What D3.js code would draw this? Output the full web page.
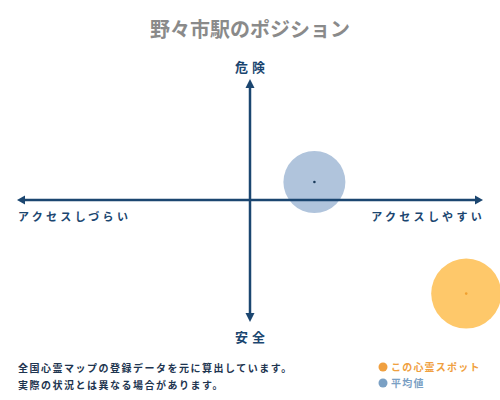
<!DOCTYPE html>
<html>
<head>
<meta charset="utf-8">
<script src="https://cdn.jsdelivr.net/npm/d3@7"></script>
<style>
  body { margin: 0; background: #fff; }
  svg { display: block; font-family: "Noto Sans CJK JP", sans-serif; }
</style>
</head>
<body>
<svg id="chart" width="500" height="400"></svg>
<script>
// データ
const title = "野々市駅のポジション";
const axisLabels = ["危険", "安全", "アクセスしづらい", "アクセスしやすい"];
const pointNames = ["平均値", "この心霊スポット"];
const pointX = [28, 94];     // アクセス (-100..100)
const pointY = [15, -78];    // 危険度 (-100..100)
const pointR = [31, 35];
const pointColors = ["#b0c4dc", "#fec86a"];
const dotColors = ["#1a3a5a", "#f0a030"];
const notes = ["全国心霊マップの登録データを元に算出しています。", "実際の状況とは異なる場合があります。"];
const legendColors = ["#f0a040", "#7aa0c4"];
const legendText = ["この心霊スポット", "平均値"];

const NAVY = "#1b4670";
const svg = d3.select("#chart");

const x = d3.scaleLinear().domain([-100, 100]).range([20, 480]);
const y = d3.scaleLinear().domain([-100, 100]).range([320, 80]);

// タイトル
svg.append("text")
  .attr("x", 250).attr("y", 37)
  .attr("text-anchor", "middle")
  .attr("font-size", 20).attr("font-weight", "bold")
  .attr("fill", "#8a8a8a")
  .text(title);

// 円（平均値・スポット）
const order = [0, 1];
svg.selectAll("circle.pt")
  .data(order)
  .join("circle")
  .attr("class", "pt")
  .attr("cx", i => x(pointX[i]))
  .attr("cy", i => y(pointY[i]))
  .attr("r", i => pointR[i])
  .attr("fill", i => pointColors[i]);

// 軸
const axes = svg.append("g").attr("stroke", NAVY).attr("stroke-width", 2.5);
axes.append("line").attr("x1", 22).attr("x2", 478).attr("y1", y(0)).attr("y2", y(0));
axes.append("line").attr("x1", x(0)).attr("x2", x(0)).attr("y1", 85).attr("y2", 317);

// 矢印
const arrow = (pts) => svg.append("path").attr("d", d3.line()(pts) + "Z").attr("fill", NAVY);
const cx0 = x(0), cy0 = y(0);
arrow([[17, cy0], [25, cy0 - 4.5], [25, cy0 + 4.5]]);
arrow([[483, cy0], [475, cy0 - 4.5], [475, cy0 + 4.5]]);
arrow([[cx0, 79], [cx0 - 4.5, 88], [cx0 + 4.5, 88]]);
arrow([[cx0, 322], [cx0 - 4.5, 313], [cx0 + 4.5, 313]]);

// 中心点
svg.selectAll("circle.dot")
  .data(order)
  .join("circle")
  .attr("class", "dot")
  .attr("cx", i => x(pointX[i]))
  .attr("cy", i => y(pointY[i]))
  .attr("r", 1.3)
  .attr("fill", i => dotColors[i]);

// 軸ラベル
const lab = (t, xx, yy, anchor, size, ls) => svg.append("text")
  .attr("x", xx).attr("y", yy)
  .attr("text-anchor", anchor)
  .attr("font-size", size).attr("font-weight", "bold")
  .attr("letter-spacing", ls)
  .attr("fill", NAVY)
  .text(t);
lab(axisLabels[0], 252, 72, "middle", 13, 4);
lab(axisLabels[1], 252, 342, "middle", 13, 4);
lab(axisLabels[2], 18, 221, "start", 11, 3.3);
lab(axisLabels[3], 485, 221, "end", 11, 3.3);

// 注記
svg.selectAll("text.note")
  .data(notes)
  .join("text")
  .attr("class", "note")
  .attr("x", 18)
  .attr("y", (d, i) => 372 + i * 17)
  .attr("font-size", 10).attr("font-weight", "bold")
  .attr("letter-spacing", 1.5)
  .attr("fill", "#1e3550")
  .text(d => d);

// 凡例
const leg = svg.selectAll("g.leg")
  .data(legendText)
  .join("g")
  .attr("class", "leg")
  .attr("transform", (d, i) => `translate(383,${367 + i * 16})`);
leg.append("circle").attr("r", 4.5).attr("fill", (d, i) => legendColors[i]);
leg.append("text")
  .attr("x", 8).attr("y", 4)
  .attr("font-size", 10).attr("font-weight", "bold")
  .attr("letter-spacing", 1.2)
  .attr("fill", (d, i) => legendColors[i])
  .text(d => d);
</script>
</body>
</html>
